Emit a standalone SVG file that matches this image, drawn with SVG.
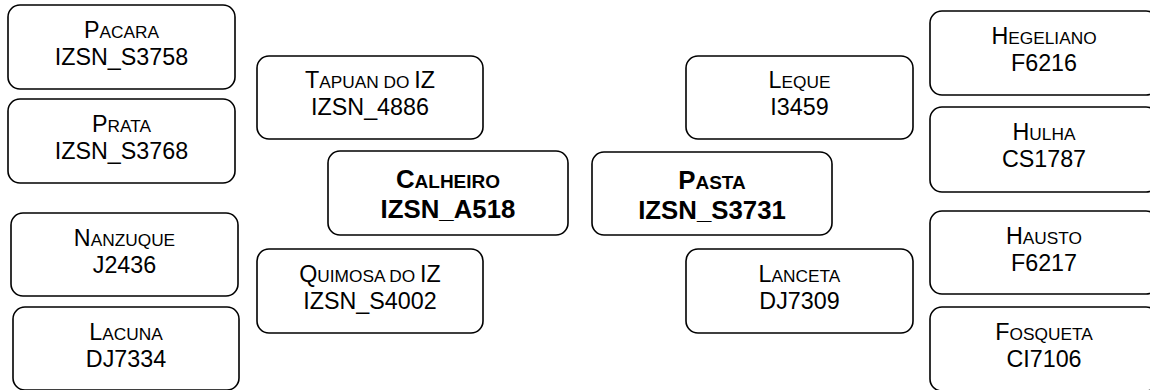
<svg xmlns="http://www.w3.org/2000/svg" width="1150" height="390" viewBox="0 0 1150 390">
<style>
  .box { fill: #ffffff; stroke: #000000; stroke-width: 1.6; }
  .t { font-family: "Liberation Sans", Arial, sans-serif; fill: #000000; text-anchor: middle; font-size: 23.3px; }
  .s { font-size: 17.3px; }
  .b { font-weight: bold; font-size: 25.8px; }
  .b .s { font-size: 19px; }
</style>
<rect x="0" y="0" width="1150" height="390" fill="#ffffff"/>
<g id="connectors"/>
<g id="pacara">
  <rect class="box" x="8" y="5" width="227" height="84" rx="12"/>
  <text class="t" x="121.5" y="38">P<tspan class="s">ACARA</tspan></text>
  <text class="t" x="121.5" y="65">IZSN_S3758</text>
</g>
<g id="prata">
  <rect class="box" x="8" y="99" width="227" height="84" rx="12"/>
  <text class="t" x="121.5" y="132">P<tspan class="s">RATA</tspan></text>
  <text class="t" x="121.5" y="159">IZSN_S3768</text>
</g>
<g id="nanzuque">
  <rect class="box" x="11" y="213" width="227" height="83" rx="12"/>
  <text class="t" x="124.5" y="246">N<tspan class="s">ANZUQUE</tspan></text>
  <text class="t" x="124.5" y="273">J2436</text>
</g>
<g id="lacuna">
  <rect class="box" x="13" y="307" width="226" height="83" rx="12"/>
  <text class="t" x="126" y="340">L<tspan class="s">ACUNA</tspan></text>
  <text class="t" x="126" y="367">DJ7334</text>
</g>
<g id="tapuan">
  <rect class="box" x="257" y="56" width="226" height="83" rx="12"/>
  <text class="t" x="370" y="88">T<tspan class="s">APUAN DO </tspan>IZ</text>
  <text class="t" x="370" y="115">IZSN_4886</text>
</g>
<g id="calheiro">
  <rect class="box" x="328" y="151" width="240" height="84" rx="12"/>
  <text class="t b" x="448" y="188">C<tspan class="s">ALHEIRO</tspan></text>
  <text class="t b" x="448" y="218">IZSN_A518</text>
</g>
<g id="quimosa">
  <rect class="box" x="257" y="249" width="226" height="84" rx="12"/>
  <text class="t" x="370" y="282">Q<tspan class="s">UIMOSA DO </tspan>IZ</text>
  <text class="t" x="370" y="309">IZSN_S4002</text>
</g>
<g id="leque">
  <rect class="box" x="686" y="56" width="227" height="83" rx="12"/>
  <text class="t" x="799.5" y="88">L<tspan class="s">EQUE</tspan></text>
  <text class="t" x="799.5" y="115">I3459</text>
</g>
<g id="pasta">
  <rect class="box" x="592" y="152" width="240" height="83" rx="12"/>
  <text class="t b" x="712" y="189">P<tspan class="s">ASTA</tspan></text>
  <text class="t b" x="712" y="219">IZSN_S3731</text>
</g>
<g id="lanceta">
  <rect class="box" x="686" y="249" width="227" height="84" rx="12"/>
  <text class="t" x="799.5" y="282">L<tspan class="s">ANCETA</tspan></text>
  <text class="t" x="799.5" y="309">DJ7309</text>
</g>
<g id="hegeliano">
  <rect class="box" x="930" y="11" width="228" height="84" rx="12"/>
  <text class="t" x="1044" y="44">H<tspan class="s">EGELIANO</tspan></text>
  <text class="t" x="1044" y="71">F6216</text>
</g>
<g id="hulha">
  <rect class="box" x="930" y="107" width="228" height="85" rx="12"/>
  <text class="t" x="1044" y="140">H<tspan class="s">ULHA</tspan></text>
  <text class="t" x="1044" y="167">CS1787</text>
</g>
<g id="hausto">
  <rect class="box" x="930" y="211" width="228" height="83" rx="12"/>
  <text class="t" x="1044" y="244">H<tspan class="s">AUSTO</tspan></text>
  <text class="t" x="1044" y="271">F6217</text>
</g>
<g id="fosqueta">
  <rect class="box" x="930" y="307" width="228" height="84" rx="12"/>
  <text class="t" x="1044" y="340">F<tspan class="s">OSQUETA</tspan></text>
  <text class="t" x="1044" y="367">CI7106</text>
</g>
</svg>
